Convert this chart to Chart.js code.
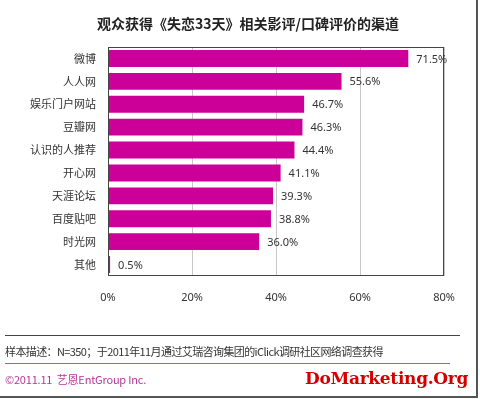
<!DOCTYPE html>
<html><head><meta charset="utf-8">
<script src="https://cdn.jsdelivr.net/npm/chart.js@4"></script>
<style>
html,body{margin:0;padding:0;background:#fff;}
#wrap{position:relative;width:480px;height:399px;overflow:hidden;background:#fff;}
canvas{position:absolute;left:0;top:0;}
.t{position:absolute;white-space:nowrap;font-family:"Noto Sans CJK SC","Noto Sans",sans-serif;}
#title{left:0;width:496px;top:13px;text-align:center;font-size:14px;font-weight:bold;color:#222;}
#l1{position:absolute;left:5px;top:335px;width:455px;height:0;border-top:1px solid #444;}
#note{left:5px;top:343px;font-size:11px;color:#333;letter-spacing:-0.6px;}
#l2{position:absolute;left:5px;top:363px;width:445px;height:0;border-top:1px solid #c8509f;}
#copy{left:5px;top:371px;font-size:11px;color:#b8369a;letter-spacing:-0.2px;}
#wm{left:305px;top:368px;font-family:"DejaVu Serif",serif;font-weight:bold;font-size:17px;color:#d40000;letter-spacing:-0.3px;}
#fr{position:absolute;left:476px;top:0;width:0;height:398px;border-left:2px solid #555;}
#fb{position:absolute;left:0;top:396px;width:478px;height:0;border-top:2px solid #555;}
</style></head>
<body><div id="wrap">
<canvas id="c" width="480" height="399"></canvas>
<div class="t" id="title">观众获得《失恋33天》相关影评/口碑评价的渠道</div>
<div id="l1"></div>
<div class="t" id="note">样本描述：N=350；于2011年11月通过艾瑞咨询集团的iClick调研社区网络调查获得</div>
<div id="l2"></div>
<div class="t" id="copy">©2011.11 &nbsp;艺恩EntGroup Inc.</div>
<div class="t" id="wm">DoMarketing.Org</div>
<div id="fr"></div><div id="fb"></div>
</div>
<script>
const categories = ["微博","人人网","娱乐门户网站","豆瓣网","认识的人推荐","开心网","天涯论坛","百度贴吧","时光网","其他"];
const values = [71.5,55.6,46.7,46.3,44.4,41.1,39.3,38.8,36.0,0.5];
const xTicks = [0,20,40,60,80];

const boxPlugin = {
  id:'box',
  afterDatasetsDraw(chart){
    const {ctx, chartArea:a} = chart;
    ctx.save();
    ctx.strokeStyle = '#444';
    ctx.lineWidth = 1;
    ctx.strokeRect(a.left+0.5, a.top+0.5, a.right-a.left-1, a.bottom-a.top-1);
    const meta = chart.getDatasetMeta(0);
    ctx.font = '11px "Noto Sans", sans-serif';
    ctx.fillStyle = '#333';
    ctx.textBaseline = 'middle';
    ctx.textAlign = 'left';
    meta.data.forEach((bar,i)=>{
      ctx.fillText(values[i].toFixed(1)+'%', bar.x+8, bar.y+1);
    });
    ctx.restore();
  }
};

new Chart(document.getElementById('c'), {
  type:'bar',
  data:{labels:categories, datasets:[{data:values, backgroundColor:'#cc0099', borderWidth:0, barPercentage:0.74, categoryPercentage:1}]},
  options:{
    indexAxis:'y', responsive:false, animation:false,
    layout:{padding:{left:0, right:36, top:47, bottom:93}},
    plugins:{legend:{display:false}, tooltip:{enabled:false}},
    scales:{
      x:{min:0,max:80,
        afterBuildTicks(s){ s.ticks = xTicks.map(v=>({value:v})); },
        afterFit(s){ s.height = 30; },
        grid:{color:'#c8c8c8', drawTicks:false, lineWidth:1},
        border:{display:false},
        ticks:{padding:15, color:'#333', font:{size:11, family:'"Noto Sans", sans-serif'}, callback:v=>v+'%', maxRotation:0}
      },
      y:{
        afterFit(s){ s.width = 108; },
        grid:{display:false, drawTicks:false},
        border:{display:false},
        ticks:{padding:12, color:'#333', font:{size:11, family:'"Noto Sans CJK SC", sans-serif'}}
      }
    }
  },
  plugins:[boxPlugin]
});
</script>
</body></html>
